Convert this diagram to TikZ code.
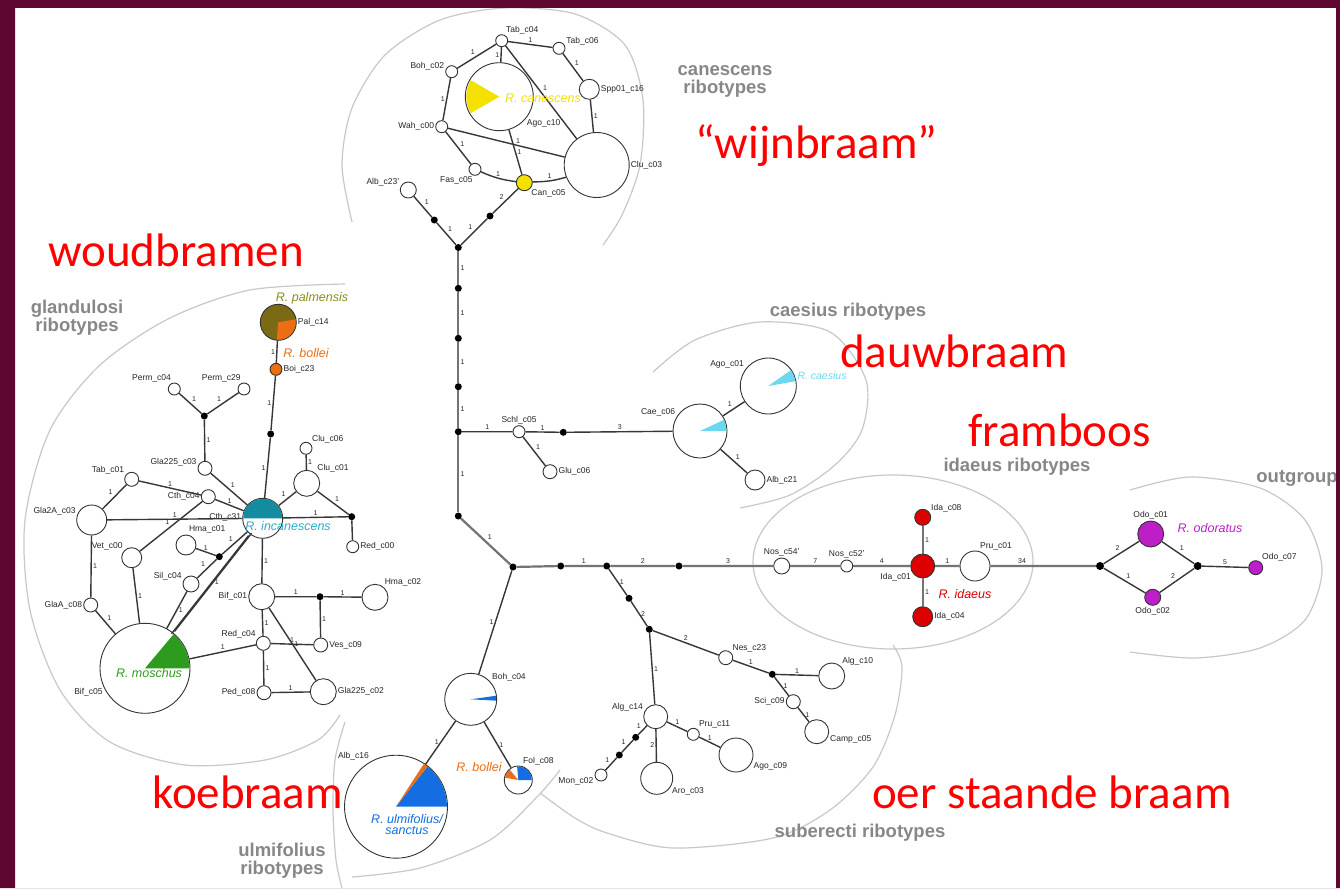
\documentclass[tikz,border=0pt]{standalone}
\usepackage{fontspec}
\setmainfont{Liberation Sans}
\newfontfamily\calfont{Carlito}
\definecolor{maroonB}{RGB}{94,8,48}
\definecolor{canY}{RGB}{245,225,0}
\definecolor{incT}{RGB}{20,140,160}
\definecolor{incL}{RGB}{40,175,200}
\definecolor{palO}{RGB}{122,106,20}
\definecolor{palL}{RGB}{140,140,30}
\definecolor{bolO}{RGB}{235,110,20}
\definecolor{caeC}{RGB}{110,215,240}
\definecolor{idaR}{RGB}{220,0,0}
\definecolor{odoP}{RGB}{190,30,200}
\definecolor{ulmB}{RGB}{20,110,225}
\definecolor{mosG}{RGB}{45,155,30}
\definecolor{hullG}{RGB}{200,200,200}
\definecolor{grpG}{RGB}{135,135,135}
\definecolor{edgeC}{RGB}{55,55,55}
\tikzset{
  hap/.style={circle, draw=black!80, line width=0.9pt, fill=white, inner sep=0pt, minimum size=#1},
  mv/.style={circle, fill=black, inner sep=0pt, minimum size=7pt},
  lab/.style={font=\fontsize{8.5}{9}\selectfont, text=black!85, inner sep=1pt},
  num/.style={font=\fontsize{7}{8}\selectfont, text=black!85, inner sep=1.2pt},
  edge/.style={line width=1.4pt, draw=edgeC},
  trunk/.style={line width=2.2pt, draw=black!55},
  hull/.style={draw=hullG, line width=1.2pt},
  grp/.style={font=\bfseries\fontsize{18.5}{21}\selectfont, text=grpG, align=center},
  tax/.style={font=\itshape\fontsize{12.5}{13}\selectfont, inner sep=0pt, align=center},
  redl/.style={font=\calfont\fontsize{47}{50}\selectfont, text=red, inner sep=0pt, anchor=base west},
}
\begin{document}
\begin{tikzpicture}[x=1pt,y=-1pt]
\useasboundingbox (0,0) rectangle (1340,888);
\fill[white] (0,0) rectangle (1340,888);

% ---------- hulls ----------
\draw[hull] plot[smooth] coordinates {(352,222) (342,165) (352,108) (385,55) (440,20) (505,8) (575,14) (625,45) (643,100) (640,165) (622,215) (603,245)};
\draw[hull] plot[smooth] coordinates {(345,284) (250,290) (170,318) (100,365) (50,430) (25,520) (30,610) (60,690) (110,742) (185,765) (265,760) (318,740) (340,715)};
\draw[hull] plot[smooth] coordinates {(653,372) (695,340) (760,322) (830,332) (866,380) (862,430) (835,465) (790,495) (740,508)};
\draw[hull] (893,562) ellipse[x radius=140, y radius=87];
\draw[hull] plot[smooth] coordinates {(1130,490) (1190,477) (1260,488) (1305,520) (1322,570) (1305,620) (1260,648) (1195,658) (1130,652)};
\draw[hull] plot[smooth] coordinates {(540,793) (575,818) (607,833) (673,848) (773,838) (830,810) (873,767) (895,715) (902,667) (893,645)};
\draw[hull] plot[smooth] coordinates {(345,722) (335,760) (333,810) (336,860) (342,888)};
\draw[hull] plot[smooth] coordinates {(352,877) (420,868) (490,840) (537,797) (560,770)};

% ---------- group labels ----------
\node[grp] (gcan) at (725,81) {canescens\\[-3pt]ribotypes};
\node[grp] (ggla) at (77,318) {glandulosi\\[-3pt]ribotypes};
\node[grp] (gcae) at (848,312) {caesius ribotypes};
\node[grp] (gida) at (1017,467) {idaeus ribotypes};
\node[grp] (gout) at (1297,478) {outgroup};
\node[grp] (gsub) at (860,833) {suberecti ribotypes};
\node[grp] (gulm) at (282,861) {ulmifolius\\[-3pt]ribotypes};

% ---------- canescens cluster ----------
\node[hap=12pt, label={[lab]60:Tab\_c04}] (tab04) at (501.7,40.7) {};
\node[hap=12pt, label={[lab]15:Tab\_c06}] (tab06) at (559,48.3) {};
\node[hap=20pt, label={[lab]0:Spp01\_c16}] (spp16) at (589.3,89.3) {};
\node[hap=12pt, label={[lab]175:Boh\_c02}] (boh02) at (451.7,71.7) {};
\node[hap=68pt, label={[lab]-40:Ago\_c10}] (ago10) at (499.3,96.7) {};
\node[hap=12pt, label={[lab]180:Wah\_c00}] (wah00) at (441.7,126.7) {};
\node[hap=12pt, label={[lab]-100:Fas\_c05}] (fas05) at (475,169.3) {};
\node[hap=65pt, label={[lab]0:Clu\_c03}] (clu03) at (596.7,165) {};
\node[hap=16pt, fill=canY, label={[lab]-45:Can\_c05}] (can05) at (524.3,182.7) {};
\node[hap=16pt, label={[lab]160:Alb\_c23'}] (alb23) at (408.3,190) {};
\node[mv] (d1) at (434.3,220) {};
\node[mv] (d2) at (490,216) {};
\node[mv] (j1) at (458.3,247.5) {};

% ---------- trunk ----------
\node[mv] (t1) at (458.3,288.3) {};
\node[mv] (t2) at (458.3,338.3) {};
\node[mv] (t3) at (458.3,386.7) {};
\node[mv] (j2) at (458.3,431.7) {};
\node[mv] (j3) at (458.3,516) {};
\node[mv] (j4) at (513,567) {};

% ---------- caesius ----------
\node[hap=12pt, label={[lab]above:Schl\_c05}] (schl) at (519,431.7) {};
\node[hap=14pt, label={[lab]0:Glu\_c06}] (glu06) at (550,471.7) {};
\node[mv] (d3) at (563.3,432.3) {};
\node[hap=54pt, label={[lab]150:Cae\_c06}] (cae06) at (700,431) {};
\node[hap=56pt, label={[lab]145:Ago\_c01}] (ago01) at (768.3,386) {};
\node[hap=20pt, label={[lab]0:Alb\_c21}] (alb21) at (755,480) {};

% ---------- main horizontal ----------
\node[mv] (h1) at (560.7,566) {};
\node[mv] (h2) at (606.7,566) {};
\node[mv] (h3) at (679,566) {};
\node[hap=16pt, label={[lab]above:Nos\_c54'}] (nos54) at (781.7,566) {};
\node[hap=12pt, label={[lab]above:Nos\_c52'}] (nos52) at (846.7,566) {};
\node[hap=24pt, fill=idaR, label={[lab]-150:Ida\_c01}] (ida01) at (922.7,566) {};
\node[hap=16pt, fill=idaR, label={[lab]30:Ida\_c08}] (ida08) at (922.7,517.3) {};
\node[hap=20pt, fill=idaR, label={[lab]0:Ida\_c04}] (ida04) at (922.7,616.7) {};
\node[hap=30pt, label={[lab]75:Pru\_c01}] (pru01) at (975,566) {};
\node[mv, minimum size=8pt] (oj1) at (1100,566) {};
\node[hap=26pt, fill=odoP, label={[lab]above:Odo\_c01}] (odo01) at (1150.7,534) {};
\node[hap=16pt, fill=odoP, label={[lab]below:Odo\_c02}] (odo02) at (1152.7,597.3) {};
\node[mv, minimum size=8pt] (oj2) at (1197.7,566) {};
\node[hap=14pt, fill=odoP, label={[lab]45:Odo\_c07}] (odo07) at (1255.7,567.7) {};

% ---------- suberecti ----------
\node[mv] (s1) at (629,598.3) {};
\node[mv] (sj) at (649.3,629.3) {};
\node[hap=14pt, label={[lab]40:Nes\_c23}] (nes23) at (725.7,657.7) {};
\node[mv] (s2) at (772.3,674.3) {};
\node[hap=26pt, label={[lab]45:Alg\_c10}] (alg10) at (831.7,676) {};
\node[hap=14pt, label={[lab]180:Sci\_c09}] (sci09) at (793.3,701.7) {};
\node[hap=24pt, label={[lab]-10:Camp\_c05}] (camp05) at (816.7,731.7) {};
\node[hap=24pt, label={[lab]160:Alg\_c14}] (alg14) at (655.7,716.7) {};
\node[hap=12pt, label={[lab]45:Pru\_c11}] (pru11) at (693.3,734.3) {};
\node[hap=34pt, label={[lab]-20:Ago\_c09}] (ago09) at (736,755) {};
\node[hap=32pt, label={[lab]-30:Aro\_c03}] (aro03) at (656.7,778.3) {};
\node[mv] (s3) at (635.7,737.3) {};
\node[mv] (s4) at (619.3,755) {};
\node[hap=12pt, label={[lab]190:Mon\_c02}] (mon02) at (601,775) {};

% ---------- ulmifolius ----------
\node[hap=52pt, label={[lab]40:Boh\_c04}] (boh04) at (470.7,699.3) {};
\node[hap=103pt, label={[lab]120:Alb\_c16}] (alb16) at (396,806.7) {};
\node[hap=28pt, label={[lab]75:Fol\_c08}] (fol08) at (518.3,780) {};

% ---------- glandulosi ----------
\node[hap=36pt, fill=palO, label={[lab]0:Pal\_c14}] (pal14) at (278.3,322.3) {};
\node[hap=12pt, fill=bolO, label={[lab]0:Boi\_c23}] (boi23) at (276,369.3) {};
\node[mv] (g1) at (270.7,434) {};
\node[hap=12pt, label={[lab]110:Perm\_c04}] (perm04) at (174.3,389) {};
\node[hap=12pt, label={[lab]110:Perm\_c29}] (perm29) at (244,389) {};
\node[mv] (gj) at (204.3,416) {};
\node[hap=14pt, label={[lab]170:Gla225\_c03}] (gla03) at (205,468.3) {};
\node[hap=14pt, label={[lab]150:Tab\_c01}] (tab01) at (131.7,479.3) {};
\node[hap=14pt, label={[lab]180:Cth\_c04}] (cth04) at (208.3,496.7) {};
\node[hap=12pt, label={[lab]40:Clu\_c06}] (clu06) at (306,448.3) {};
\node[hap=26pt, label={[lab]45:Clu\_c01}] (clu01) at (306.7,483.3) {};
\node[mv] (g2) at (351.7,516.7) {};
\node[hap=12pt, label={[lab]0:Red\_c00}] (red00) at (352.7,546.7) {};
\node[hap=20pt, label={[lab]80:Hma\_c01}] (hma01) at (186,545) {};
\node[mv] (g3) at (219.3,556.7) {};
\node[hap=30pt, label={[lab]165:Gla2A\_c03}] (gla2a) at (91.7,520) {};
\node[hap=20pt, label={[lab]140:Vet\_c00}] (vet00) at (131.7,557.7) {};
\node[hap=16pt, label={[lab]165:Sil\_c04}] (sil04) at (191,584) {};
\node[hap=14pt, label={[lab]180:GlaA\_c08}] (glaa08) at (90.7,605) {};
\node[hap=90pt, label={[lab]205:Bif\_c05}] (mosch) at (145,668.3) {};
\node[hap=26pt, label={[lab]180:Bif\_c01}] (bif01) at (261.7,596.7) {};
\node[hap=14pt, label={[lab]150:Red\_c04}] (red04) at (263.3,643.3) {};
\node[hap=14pt, label={[lab]180:Ped\_c08}] (ped08) at (264,692.7) {};
\node[mv] (g4) at (320,596.7) {};
\node[hap=26pt, label={[lab]50:Hma\_c02}] (hma02) at (375,597.3) {};
\node[hap=14pt, label={[lab]0:Ves\_c09}] (ves09) at (320.7,645) {};
\node[hap=26pt, label={[lab]0:Gla225\_c02}] (gla02) at (323.3,691.7) {};
\node[hap=40pt, label={[lab]178:Cth\_c31}] (inc) at (262.7,518.3) {};

% ---------- edges: canescens ----------
\draw[edge] (tab04) -- node[num,above]{1} (tab06);
\draw[edge] (tab06) -- node[num,above right]{1} (spp16);
\draw[edge] (spp16) -- node[num,right]{1} (clu03);
\draw[edge] (tab04) -- node[num,above left]{1} (boh02);
\draw[edge] (tab04) -- node[num,left]{1} (ago10);
\draw[edge] (tab04) -- node[num,above right]{1} (clu03);
\draw[edge] (boh02) -- node[num,left]{1} (wah00);
\draw[edge] (wah00) -- node[num,above,pos=0.6]{1} (clu03);
\draw[edge] (wah00) -- node[num,above right]{1} (fas05);
\draw[edge] (fas05) to[bend right=8] node[num,above]{1} (can05);
\draw[edge] (ago10) -- node[num,right]{1} (can05);
\draw[edge] (can05) to[bend right=8] node[num,above]{1} (clu03);
\draw[edge] (can05) -- node[num,above left]{2} (d2) -- node[num,above left]{1} (j1);
\draw[edge] (alb23) -- node[num,above right]{1} (d1) -- node[num,above right]{1} (j1);

% ---------- edges: trunk ----------
\draw[trunk] (j1) -- node[num,right]{1} (t1) -- node[num,right]{1} (t2) -- node[num,right]{1} (t3) -- node[num,right]{1} (j2) -- node[num,right]{1} (j3);
\draw[trunk] (j3) -- node[num,above right]{1} (j4);
\draw[trunk] (j4) -- (h1) -- node[num,above]{1} (h2) -- node[num,above]{2} (h3) -- node[num,above]{3} (nos54) -- node[num,above]{7} (nos52) -- node[num,above]{4} (ida01) -- node[num,above]{1} (pru01) -- node[num,above,pos=0.3]{34} (oj1);
\draw[trunk] (ida08) -- node[num,right]{1} (ida01) -- node[num,right]{1} (ida04);

% ---------- edges: caesius ----------
\draw[edge] (j2) -- node[num,above]{1} (schl) -- node[num,above]{1} (d3) -- node[num,above]{3} (cae06);
\draw[edge] (schl) -- node[num,above right]{1} (glu06);
\draw[edge] (cae06) -- node[num,above left]{1} (ago01);
\draw[edge] (cae06) -- node[num,above right]{1} (alb21);

% ---------- edges: outgroup ----------
\draw[edge] (oj1) -- node[num,above left]{2} (odo01) -- node[num,above right]{1} (oj2);
\draw[edge] (oj1) -- node[num,above right]{1} (odo02) -- node[num,above left]{2} (oj2);
\draw[edge] (oj2) -- node[num,above]{5} (odo07);

% ---------- edges: suberecti ----------
\draw[edge] (h2) -- node[num,right]{1} (s1) -- node[num,right]{2} (sj);
\draw[edge] (sj) -- node[num,above]{2} (nes23) -- node[num,above]{1} (s2) -- node[num,above]{1} (alg10);
\draw[edge] (s2) -- node[num,right]{1} (sci09) -- node[num,right]{1} (camp05);
\draw[edge] (sj) -- node[num,right]{1} (alg14);
\draw[edge] (alg14) -- node[num,above]{1} (pru11) -- node[num,above]{1} (ago09);
\draw[edge] (alg14) -- node[num,left]{2} (aro03);
\draw[edge] (alg14) -- node[num,above left]{1} (s3) -- node[num,above left]{1} (s4) -- node[num,above left]{1} (mon02);

% ---------- edges: ulmifolius ----------
\draw[edge] (j4) -- node[num,left]{1} (boh04);
\draw[edge] (boh04) -- node[num,left]{1} (alb16);
\draw[edge] (boh04) -- node[num,right]{1} (fol08);

% ---------- edges: glandulosi ----------
\draw[edge] (pal14) -- node[num,left]{1} (boi23) -- node[num,left]{1} (g1) -- node[num,left]{1} (inc);
\draw[edge] (perm04) -- node[num,above right]{1} (gj);
\draw[edge] (perm29) -- node[num,above left]{1} (gj);
\draw[edge] (gj) -- node[num,right]{1} (gla03) -- node[num,above right]{1} (inc);
\draw[edge] (tab01) -- node[num,above]{1} (cth04) -- node[num,above]{1} (inc);
\draw[edge] (gla2a) -- node[num,above left]{1} (tab01);
\draw[edge] (gla2a) -- node[num,above]{1} (inc);
\draw[edge] (vet00) -- node[num,above left]{1} (cth04);
\draw[edge] (gla2a) -- node[num,right]{1} (glaa08) -- node[num,above right]{1} (mosch);
\draw[edge] (vet00) -- node[num,right]{1} (mosch);
\draw[edge] (sil04) -- node[num,right]{1} (mosch);
\draw[edge] (sil04) -- node[num,above left]{1} (g3);
\draw[edge] (hma01) -- node[num,above]{1} (g3) -- node[num,above left]{1} (inc);
\draw[edge, transform canvas={shift={(-1.5pt,-1.2pt)}}] (mosch) -- (inc);
\draw[edge, transform canvas={shift={(1.5pt,1.2pt)}}] (mosch) -- node[num,right]{1} (inc);
\draw[edge] (mosch) -- node[num,above]{1} (red04);
\draw[edge] (inc) -- node[num,right]{1} (bif01);
\draw[edge] (bif01) -- node[num,above]{1} (g4) -- node[num,above]{1} (hma02);
\draw[edge] (g4) -- node[num,right]{1} (ves09);
\draw[edge] (bif01) -- node[num,right]{1} (red04) -- node[num,right]{1} (ped08);
\draw[edge] (red04) -- node[num,above]{1} (ves09);
\draw[edge] (bif01) -- node[num,right]{1} (gla02);
\draw[edge] (ped08) -- node[num,above]{1} (gla02);
\draw[edge] (inc) -- node[num,above]{1} (g2);
\draw[edge] (inc) -- node[num,above left]{1} (clu01);
\draw[edge] (clu06) -- node[num,right]{1} (clu01);
\draw[edge] (clu01) -- node[num,above right]{1} (g2);
\draw[edge] (g2) -- (red00);

% ---------- pie wedges ----------
\fill[canY] (ago10.center) -- ++(150:33) arc[start angle=150, end angle=210, radius=33] -- cycle;
\fill[incT] (inc.center) -- ++(-180:19.5) arc[start angle=-180, end angle=0, radius=19.5] -- cycle;
\fill[bolO] (pal14.center) -- ++(-10:17.5) arc[start angle=-10, end angle=95, radius=17.5] -- cycle;
\fill[mosG] (mosch.center) -- ++(-50:44.5) arc[start angle=-50, end angle=0, radius=44.5] -- cycle;
\fill[caeC] (ago01.center) -- ++(-35:27.5) arc[start angle=-35, end angle=-10, radius=27.5] -- cycle;
\fill[caeC] (cae06.center) -- ++(-25:26.5) arc[start angle=-25, end angle=0, radius=26.5] -- cycle;
\fill[ulmB] (boh04.center) -- ++(-8:25.5) arc[start angle=-8, end angle=3, radius=25.5] -- cycle;
\fill[ulmB] (alb16.center) -- ++(-52:51) arc[start angle=-52, end angle=0, radius=51] -- cycle;
\fill[bolO] (alb16.center) -- ++(-57:51) arc[start angle=-57, end angle=-52, radius=51] -- cycle;
\fill[ulmB] (fol08.center) -- ++(-95:13.5) arc[start angle=-95, end angle=0, radius=13.5] -- cycle;
\fill[bolO] (fol08.center) -- ++(-170:13.5) arc[start angle=-170, end angle=-130, radius=13.5] -- cycle;

% ---------- taxon labels ----------
\node[tax, text=canY] (tcan) at (543,98) {R. canescens};
\node[tax, text=palL] (tpal) at (312,298) {R. palmensis};
\node[tax, text=bolO] (tbol1) at (306,353) {R. bollei};
\node[tax, text=incL] (tinc) at (288,526) {R. incanescens};
\node[tax, text=caeC, font=\itshape\fontsize{10.5}{11}\selectfont] (tcae) at (822,376) {R. caesius};
\node[tax, text=idaR] (tida) at (965,594) {R. idaeus};
\node[tax, text=odoP] (todo) at (1210,528) {R. odoratus};
\node[tax, text=mosG] (tmos) at (149,673) {R. moschus};
\node[tax, text=ulmB] (tulm) at (407,825) {R. ulmifolius/\\[-2pt]sanctus};
\node[tax, text=bolO] (tbol2) at (479,767) {R. bollei};

% ---------- red labels ----------
\node[redl] (rw) at (695,158) {“wijnbraam”};
\node[redl] (rwo) at (48,266) {woudbramen};
\node[redl] (rd) at (840,367) {dauwbraam};
\node[redl] (rf) at (968,446) {framboos};
\node[redl] (rk) at (152,808) {koebraam};
\node[redl] (ro) at (872,808) {oer staande braam};

% ---------- frame ----------
\fill[maroonB, even odd rule] (0,0) rectangle (1340,888) (15,8) rectangle (1336,888);
\end{tikzpicture}
\end{document}
